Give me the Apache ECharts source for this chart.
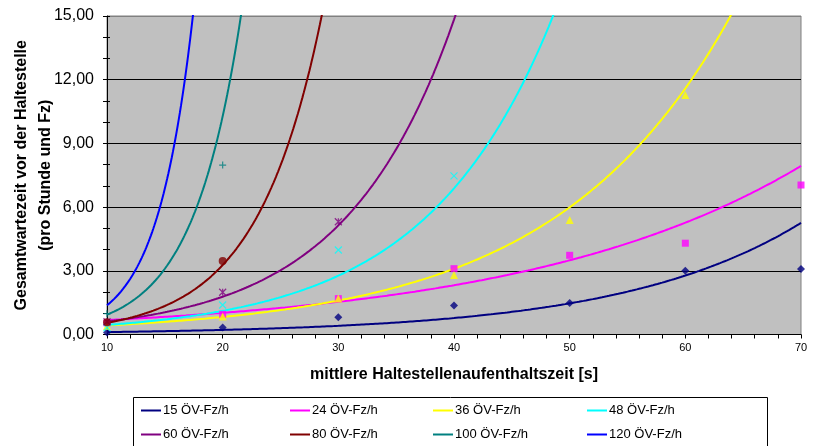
<!DOCTYPE html>
<html>
<head>
<meta charset="utf-8">
<script src="https://cdn.jsdelivr.net/npm/echarts@6/dist/echarts.min.js"></script>
<style>
  html, body { margin: 0; padding: 0; background: #fff; }
  #chart { width: 813px; height: 446px; }
</style>
</head>
<body>
<div id="chart"></div>
<script>
// Measured waiting times per stop dwell time, one list per bus frequency
const dwellTimes = [10, 20, 30, 40, 50, 60, 70];
const seriesNames = ['15 ÖV-Fz/h', '24 ÖV-Fz/h', '36 ÖV-Fz/h', '48 ÖV-Fz/h',
                     '60 ÖV-Fz/h', '80 ÖV-Fz/h', '100 ÖV-Fz/h', '120 ÖV-Fz/h'];
const wait15  = [0.10, 0.33, 0.81, 1.37, 1.48, 3.00, 3.09];
const wait24  = [0.55, 0.95, 1.69, 3.10, 3.73, 4.30, 7.04];
const wait36  = [0.40, 0.85, 1.70, 2.80, 5.39, 11.28, null];
const wait48  = [0.32, 1.39, 3.98, 7.47, null, null, null];
const wait60  = [0.60, 1.99, 5.31, null, null, null, null];
const wait80  = [0.58, 3.46, null, null, null, null, null];
const wait100 = [0.98, 7.98, null, null, null, null, null];
const wait120 = [1.47, null, null, null, null, null, null];

// Exponential trend lines y = a * e^(b * x)
const trendA = [0.0604, 0.45, 0.221, 0.1807, 0.2137, 0.093, 0.0846, 0.0549];
const trendB = [0.0638, 0.041, 0.066, 0.091, 0.106, 0.178, 0.240, 0.322];

// Y axis ticks
const yTicks = [0, 3, 6, 9, 12, 15];

const allWaits = [wait15, wait24, wait36, wait48, wait60, wait80, wait100, wait120];
const lineColors = ['#000080', '#FF00FF', '#FFFF00', '#00FFFF',
                    '#800080', '#800000', '#008080', '#0000FF'];
const markers = [
  'diamond', 'rect', 'triangle',
  'path://M0,0L10,10M10,0L0,10',
  'path://M0,0L10,10M10,0L0,10M5,0L5,10',
  'circle',
  'path://M5,0L5,10M0,5L10,5',
  'path://M0,5L10,5'
];
const markerSizes = [8, 7, 8, 7, 7, 8, 7, 7];
const strokeMarkers = [false, false, false, true, true, false, true, true];

const FONT = '"Liberation Sans", Arial, sans-serif';

function trendCurve(a, b) {
  const pts = [];
  for (let i = 0; i <= 600; i++) {
    const x = 10 + i * 0.1;
    const y = a * Math.exp(b * x);
    pts.push([x, y]);
    if (y > 15) break;
  }
  return pts;
}

const series = [];
seriesNames.forEach((name, i) => {
  series.push({
    name: name,
    type: 'line',
    data: trendCurve(trendA[i], trendB[i]),
    showSymbol: false,
    smooth: false,
    clip: true,
    lineStyle: { color: lineColors[i], width: 2 },
    itemStyle: { color: lineColors[i] },
    silent: true,
    z: 3
  });
  const pts = [];
  dwellTimes.forEach((x, k) => { if (allWaits[i][k] != null) pts.push([x, allWaits[i][k]]); });
  series.push({
    name: name,
    type: 'scatter',
    data: pts,
    symbol: markers[i],
    symbolSize: markerSizes[i],
    clip: true,
    itemStyle: strokeMarkers[i]
      ? { color: 'none', borderColor: lineColors[i], borderWidth: 1.2 }
      : { color: lineColors[i] },
    z: 4
  });
});

// Legend laid out as a 4 x 2 table
const colX = [141, 290, 433, 587];
const rowY = [404, 428];
const legends = seriesNames.map((name, i) => ({
  data: [name],
  left: colX[i % 4],
  top: rowY[Math.floor(i / 4)],
  padding: 0,
  icon: 'rect',
  itemWidth: 20,
  itemHeight: 2,
  selectedMode: false,
  textStyle: { fontSize: 13, fontFamily: FONT, color: '#000', padding: [0, 0, 0, -3] }
}));

const chart = echarts.init(document.getElementById('chart'), null, { renderer: 'canvas' });
chart.setOption({
  backgroundColor: '#ffffff',
  animation: false,
  grid: {
    left: 107, right: 12, top: 16, bottom: 111.5,
    containLabel: false, outerBoundsMode: 'none',
    show: true, backgroundColor: '#C0C0C0', borderColor: '#808080', borderWidth: 1
  },
  legend: legends,
  graphic: [{
    type: 'rect',
    shape: { x: 133.5, y: 397.5, width: 634, height: 60 },
    style: { fill: 'none', stroke: '#000', lineWidth: 1 },
    z: 0
  }],
  xAxis: {
    type: 'value', min: 10, max: 70, interval: 10,
    name: 'mittlere Haltestellenaufenthaltszeit [s]',
    nameLocation: 'middle', nameGap: 32, nameMoveOverlap: false,
    nameTextStyle: { fontSize: 16, fontWeight: 'bold', fontFamily: FONT, color: '#000' },
    axisLine: { lineStyle: { color: '#000', width: 1 } },
    axisTick: { show: true, length: 4, lineStyle: { color: '#000' } },
    minorTick: { show: true, splitNumber: 5, length: 4, lineStyle: { color: '#000' } },
    axisLabel: { fontSize: 11, fontFamily: FONT, color: '#000', margin: 8 },
    splitLine: { show: false }
  },
  yAxis: [{
    type: 'value', min: yTicks[0], max: yTicks[yTicks.length - 1], interval: yTicks[1] - yTicks[0],
    name: 'Gesamtwartezeit vor der Haltestelle\n(pro Stunde und Fz)',
    nameLocation: 'middle', nameGap: 49, nameMoveOverlap: false,
    nameTextStyle: { fontSize: 16, fontWeight: 'bold', fontFamily: FONT, color: '#000', lineHeight: 24 },
    axisLine: { show: true, lineStyle: { color: '#000', width: 1 } },
    axisTick: { show: true, length: 4, lineStyle: { color: '#000' } },
    minorTick: { show: true, splitNumber: 3, length: 4, lineStyle: { color: '#000' } },
    axisLabel: {
      fontSize: 16, fontFamily: FONT, color: '#000', margin: 13,
      formatter: v => v.toFixed(2).replace('.', ',')
    },
    splitLine: { show: true, lineStyle: { color: ['#000', '#000', '#000', '#000', '#000', '#808080'], width: 1 } }
  }, {
    type: 'value', min: yTicks[0], max: yTicks[yTicks.length - 1], interval: yTicks[1] - yTicks[0],
    position: 'left',
    axisLine: { show: false },
    axisTick: { show: true, inside: true, length: 3, lineStyle: { color: '#000' } },
    minorTick: { show: true, splitNumber: 3, length: 3, lineStyle: { color: '#000' } },
    axisLabel: { show: false },
    splitLine: { show: false }
  }],
  series: series
});
</script>
</body>
</html>
